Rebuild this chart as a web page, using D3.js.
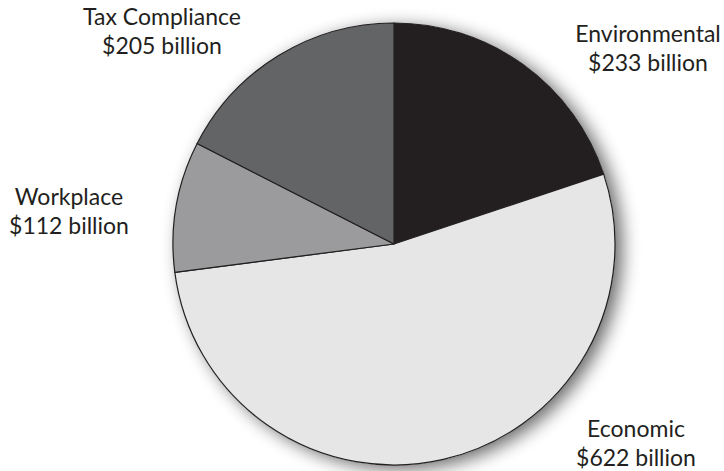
<!DOCTYPE html>
<html>
<head>
<meta charset="utf-8">
<script src="https://cdn.jsdelivr.net/npm/d3@7"></script>
<style>
  html, body { margin: 0; padding: 0; background: #fff; }
  svg { display: block; }
  text { font-family: "Lato", "Open Sans", sans-serif; fill: #231f20; }
</style>
</head>
<body>
<svg id="chart" width="724" height="471"></svg>
<script>
// Regulatory cost categories, in drawing order (clockwise from 12 o'clock)
const categories = ["Environmental", "Economic", "Workplace", "Tax Compliance"];
const values = [233, 622, 112, 205];            // billions of dollars
const valueLabels = ["$233 billion", "$622 billion", "$112 billion", "$205 billion"];
const colors = ["#231f20", "#e6e6e7", "#9b9b9d", "#636466"];

const svg = d3.select("#chart");
const cx = 394, cy = 244, r = 221;

// soft drop shadow behind the pie
const defs = svg.append("defs");
const f = defs.append("filter").attr("id", "shadow")
  .attr("x", "-20%").attr("y", "-20%").attr("width", "140%").attr("height", "140%");
f.append("feGaussianBlur").attr("in", "SourceAlpha").attr("stdDeviation", 9).attr("result", "b");
f.append("feOffset").attr("in", "b").attr("dx", 7).attr("dy", 4).attr("result", "o");
f.append("feComponentTransfer").attr("in", "o").attr("result", "s")
  .append("feFuncA").attr("type", "linear").attr("slope", 0.6);
const m = f.append("feMerge");
m.append("feMergeNode").attr("in", "s");
m.append("feMergeNode").attr("in", "SourceGraphic");

const pie = d3.pie().value(d => d).sort(null);
const arcs = pie(values);
const arc = d3.arc().innerRadius(0).outerRadius(r);

const g = svg.append("g").attr("transform", `translate(${cx},${cy})`);
g.append("circle").attr("r", r).attr("fill", "#fff").attr("filter", "url(#shadow)");
g.selectAll("path.slice")
  .data(arcs)
  .join("path")
  .attr("class", "slice")
  .attr("d", arc)
  .attr("fill", (d, i) => colors[i])
  .attr("stroke", "#231f20")
  .attr("stroke-width", 1.2)
  .attr("stroke-linejoin", "round");

// two-line labels beside each slice
const labelPos = [
  { x: 648, y: 42 },   // Environmental
  { x: 636, y: 437 },  // Economic
  { x: 69,  y: 205 },  // Workplace
  { x: 162, y: 25 }    // Tax Compliance
];
const labels = svg.append("g").selectAll("text")
  .data(categories)
  .join("text")
  .attr("text-anchor", "middle")
  .attr("font-size", 23)
  .attr("x", (d, i) => labelPos[i].x)
  .attr("y", (d, i) => labelPos[i].y);
labels.append("tspan").attr("x", (d, i) => labelPos[i].x).text(d => d);
labels.append("tspan").attr("x", (d, i) => labelPos[i].x).attr("dy", 29)
  .text((d, i) => valueLabels[i]);
</script>
</body>
</html>
